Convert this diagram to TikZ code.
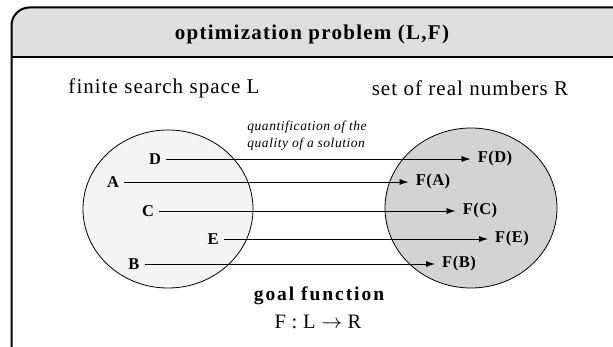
\documentclass[tikz,border=0pt]{standalone}
\usepackage{fontspec}
\setmainfont{Liberation Serif}
\usetikzlibrary{arrows.meta}
\definecolor{headgray}{HTML}{DEDEDE}
\definecolor{lightset}{HTML}{F4F4F4}
\definecolor{darkset}{HTML}{D3D3D3}
\newcommand{\lsp}[1]{\addfontfeature{LetterSpace=#1}}
\begin{document}
\begin{tikzpicture}[x=1pt,y=-1pt,
  elem/.style={font=\bfseries\fontsize{16.5}{18}\selectfont\lsp{3}, inner sep=1pt},
  img/.style={font=\bfseries\fontsize{16.5}{18}\selectfont\lsp{3}, inner sep=1pt},
  maparrow/.style={-{Latex[length=9pt,width=6pt]}, line width=0.8pt, shorten >=6pt, shorten <=4pt},
  settitle/.style={font=\fontsize{21}{24}\selectfont\lsp{5}, inner sep=0pt}]
\useasboundingbox (0,0) rectangle (613,347);
% header band
\fill[headgray] (11.5,57) [rounded corners=18] -- (11.5,7.5) -- (640,7.5) [sharp corners] -- (640,57) -- cycle;
\draw[line width=2pt] (11.5,57) -- (640,57);
\draw[line width=2pt, rounded corners=18] (11.5,360) -- (11.5,7.5) -- (640,7.5);
\node[font=\bfseries\fontsize{21}{24}\selectfont\lsp{6}] (title) at (312,34) {optimization problem (L,F)};
% set titles
\node[settitle] (Ltitle) at (164,88) {finite search space L};
\node[settitle] (Rtitle) at (470,88) {set of real numbers R};
% sets
\draw[fill=lightset, line width=0.8pt] (168,209) ellipse [x radius=85, y radius=79];
\draw[fill=darkset, line width=0.8pt] (471,208) ellipse [x radius=86, y radius=80];
% annotation
\node[font=\itshape\fontsize{13.5}{17}\selectfont\lsp{4}, align=left, inner sep=0pt] (quant) at (307,136) {quantification of the\\quality of a solution};
% elements
\node[elem] (D) at (155,159) {D};
\node[elem] (A) at (113,182) {A};
\node[elem] (C) at (148,211) {C};
\node[elem] (E) at (213,239) {E};
\node[elem] (B) at (134,264) {B};
\node[img] (FD) at (495,159) {F(D)};
\node[img] (FA) at (433,182) {F(A)};
\node[img] (FC) at (480,211) {F(C)};
\node[img] (FE) at (512,239) {F(E)};
\node[img] (FB) at (459,264) {F(B)};
\draw[maparrow] (D) -- (FD);
\draw[maparrow] (A) -- (FA);
\draw[maparrow] (C) -- (FC);
\draw[maparrow] (E) -- (FE);
\draw[maparrow] (B) -- (FB);
% goal function
\node[font=\bfseries\fontsize{19.5}{21}\selectfont\lsp{10}, inner sep=0pt] (goal) at (319,296) {goal function};
\node[font=\fontsize{20.5}{22}\selectfont, inner sep=0pt] (map) at (318,322) {F\;:\;L\;$\rightarrow$\;R};
\end{tikzpicture}
\end{document}
